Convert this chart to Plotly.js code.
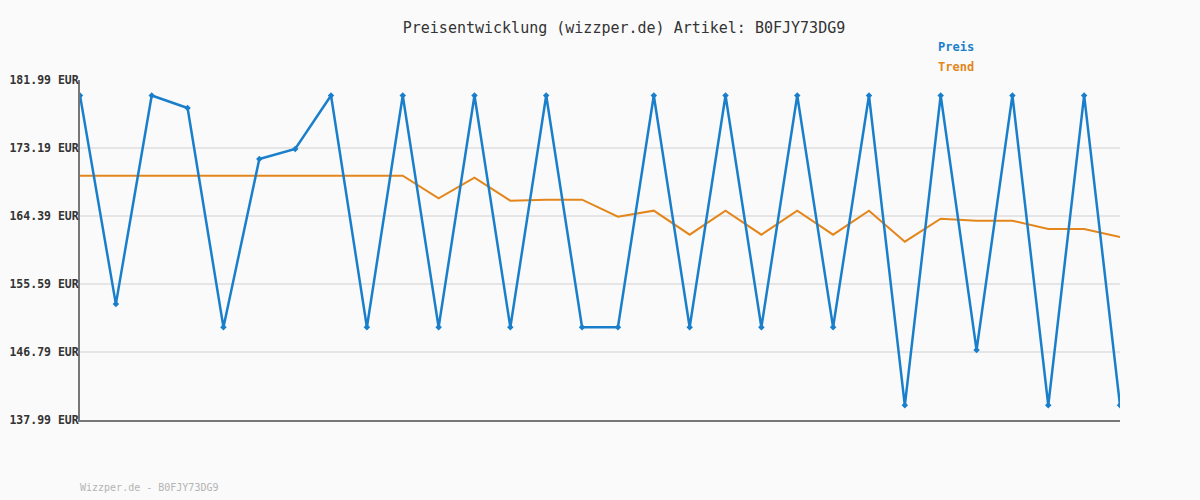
<!DOCTYPE html>
<html>
<head>
<meta charset="utf-8">
<script src="https://cdn.plot.ly/plotly-3.0.1.min.js"></script>
<style>html,body{margin:0;padding:0;background:#fafafa;}#chart{width:1200px;height:500px;}</style>
</head>
<body>
<div id="chart"></div>
<script>
const preis = [179.99, 152.99, 179.99, 178.37, 149.99, 171.77, 173.06, 179.99, 149.99, 179.99,
  149.99, 179.99, 149.99, 179.99, 149.99, 149.99, 179.99, 149.99, 179.99, 149.99,
  179.99, 149.99, 179.99, 139.89, 179.99, 147.05, 179.99, 139.89, 179.99, 139.89];
const trend = [169.61, 169.61, 169.61, 169.61, 169.61, 169.61, 169.61, 169.61, 169.61, 169.61,
  166.68, 169.35, 166.37, 166.50, 166.50, 164.30, 165.08, 161.97, 165.08, 161.97,
  165.08, 161.97, 165.08, 161.07, 164.04, 163.78, 163.78, 162.71, 162.71, 161.67];
const idx = preis.map((_, i) => i);
const yTicks = [137.99, 146.79, 155.59, 164.39, 173.19, 181.99];
const yTickText = yTicks.map(v => v.toFixed(2) + ' EUR');
const titleText = 'Preisentwicklung (wizzper.de) Artikel: B0FJY73DG9';
const footerText = 'Wizzper.de - B0FJY73DG9';
const legendNames = ['Preis', 'Trend'];

const blue = '#1a7fcb';
const orange = '#e3861b';
const mono = 'DejaVu Sans Mono, Liberation Mono, monospace';

const traces = [
  {x: idx, y: trend, type: 'scatter', mode: 'lines', line: {color: orange, width: 2}, name: legendNames[1], hoverinfo: 'skip'},
  {x: idx, y: preis, type: 'scatter', mode: 'lines+markers', line: {color: blue, width: 2.5}, marker: {symbol: 'diamond', size: 5, color: blue}, name: legendNames[0]}
];

const layout = {
  width: 1200, height: 500,
  paper_bgcolor: '#fafafa', plot_bgcolor: '#fafafa',
  margin: {l: 80, r: 80, t: 80, b: 80},
  showlegend: false,
  title: {text: titleText, font: {family: mono, size: 15, color: '#333'}, x: 0.52, xref: 'container', xanchor: 'center', y: 0.944, yref: 'container', yanchor: 'middle'},
  xaxis: {range: [0, 29], showgrid: false, zeroline: false, showticklabels: false, ticks: '', showline: true, linecolor: '#777', linewidth: 2, fixedrange: true},
  yaxis: {range: [137.99, 181.99], tickvals: yTicks, ticktext: yTickText, showgrid: true, gridcolor: '#e5e5e5', gridwidth: 2, zeroline: false, showline: true, linecolor: '#777', linewidth: 2, ticks: '', ticklabelstandoff: -3, tickfont: {family: mono, size: 11.5, color: '#333', weight: 'bold'}, fixedrange: true},
  annotations: [
    {text: '<b>' + legendNames[0] + '</b>', xref: 'paper', yref: 'paper', x: (936 - 80) / 1040, y: (420 - 47) / 340, xanchor: 'left', yanchor: 'middle', showarrow: false, font: {family: mono, size: 12, color: blue}},
    {text: '<b>' + legendNames[1] + '</b>', xref: 'paper', yref: 'paper', x: (936 - 80) / 1040, y: (420 - 67) / 340, xanchor: 'left', yanchor: 'middle', showarrow: false, font: {family: mono, size: 12, color: orange}},
    {text: footerText, xref: 'paper', yref: 'paper', x: -2 / 1040, y: (420 - 487) / 340, xanchor: 'left', yanchor: 'middle', showarrow: false, font: {family: mono, size: 10, color: '#b4b4b4'}}
  ]
};

Plotly.newPlot('chart', traces, layout, {staticPlot: true, displayModeBar: false});
</script>
</body>
</html>
